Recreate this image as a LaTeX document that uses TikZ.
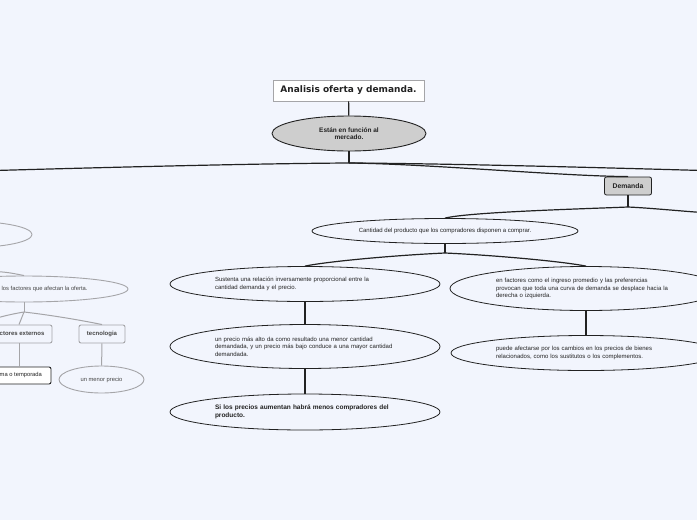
\documentclass[tikz,border=0pt]{standalone}
\usepackage{fontspec}
\setmainfont{Liberation Sans}
\newfontfamily\titlefont{DejaVu Sans}
\usetikzlibrary{shapes.geometric}
\definecolor{mapBg}{RGB}{242,245,253}
\definecolor{mapLine}{RGB}{34,34,34}
\definecolor{mapGray}{RGB}{165,165,168}
\definecolor{mapGrayText}{RGB}{70,70,70}
\definecolor{mapFill}{RGB}{206,206,206}

\begin{document}
\begin{tikzpicture}[x=1pt,y=-1pt,
  conn/.style={draw=mapLine, line width=1.2pt},
  grisconn/.style={draw=mapGray, line width=1pt},
  titulo/.style={rectangle, draw=mapGray, line width=0.8pt, fill=white,
    minimum width=151pt, minimum height=21pt, inner sep=0pt,
    font=\titlefont\bfseries\fontsize{9}{11}\selectfont, text=mapLine},
  central/.style={ellipse, draw=mapLine, line width=0.9pt, fill=mapFill,
    minimum width=154pt, minimum height=35pt, inner sep=0pt, align=center,
    font=\bfseries\fontsize{6.5}{7.5}\selectfont, text=mapLine},
  rama/.style={rectangle, rounded corners=2pt, draw=mapLine, line width=0.8pt,
    fill=mapFill, minimum width=47pt, minimum height=18pt, inner sep=0pt,
    font=\bfseries\fontsize{6.8}{8}\selectfont, text=mapLine},
  idea/.style={ellipse, draw=mapLine, line width=0.8pt, fill=mapBg,
    inner sep=0pt, font=\fontsize{6}{7.5}\selectfont, text=mapLine},
  ideatxt/.style={text width=180pt, align=left},
  grisell/.style={ellipse, draw=mapGray, line width=0.9pt, fill=mapBg,
    inner sep=0pt, font=\fontsize{5.8}{7}\selectfont, text=mapGrayText},
  grisbox/.style={rectangle, rounded corners=2pt, draw=mapGray, line width=0.9pt,
    fill=mapBg, inner sep=0pt, minimum height=18pt,
    font=\bfseries\fontsize{6}{7}\selectfont, text=mapGrayText},
  negrobox/.style={rectangle, rounded corners=2pt, draw=mapLine, line width=0.9pt,
    fill=white, inner sep=0pt, minimum height=17pt},
  gristxt/.style={inner sep=0pt, font=\fontsize{5.8}{7}\selectfont, text=mapGrayText},
  grisbold/.style={inner sep=0pt, font=\bfseries\fontsize{6}{7}\selectfont, text=mapGrayText},
  negrotxt/.style={inner sep=0pt, font=\fontsize{5.8}{7}\selectfont, text=mapLine}
]
\useasboundingbox (0,0) rectangle (697,520);
\fill[mapBg] (0,0) rectangle (697,520);
\clip (0,0) rectangle (697,520);

% nodos principales
\node[titulo] (titulo) at (348.5,90.5) {Analisis oferta y demanda.};
\node[central] (mercado) at (349,133.5) {Están en función al\\mercado.};
\node[rama] (demanda) at (628,186) {Demanda};

\node[idea, minimum width=266pt, minimum height=25pt] (cantidad) at (445,231)
  {Cantidad del producto que los compradores disponen a comprar.};
\node[idea, ideatxt, minimum width=270pt, minimum height=35pt] (sustenta) at (305,284)
  {Sustenta una relación inversamente proporcional entre la\\cantidad demanda y el precio.};
\node[idea, ideatxt, minimum width=272pt, minimum height=44pt] (factores) at (586,288.5)
  {en factores como el ingreso promedio y las preferencias\\provocan que toda una curva de demanda se desplace hacia la\\derecha o izquierda.};
\node[idea, ideatxt, minimum width=270pt, minimum height=44pt] (precio) at (305,346.5)
  {un precio más alto da como resultado una menor cantidad\\demandada, y un precio más bajo conduce a una mayor cantidad\\demandada.};
\node[idea, ideatxt, minimum width=270pt, minimum height=35pt] (puede) at (586,353)
  {puede afectarse por los cambios en los precios de bienes\\relacionados, como los sustitutos o los complementos.};
\node[idea, ideatxt, minimum width=270pt, minimum height=36pt,
  font=\bfseries\fontsize{6.5}{7.5}\selectfont] (aumentan) at (305,412)
  {Si los precios aumentan habrá menos compradores del\\producto.};

% lado de la oferta (cortado)
\node[grisell, minimum width=124pt, minimum height=26pt] (oferta) at (-30,234.5) {};
\node[grisell, minimum width=208pt, minimum height=26pt] (afectan) at (24,289) {};
\node[gristxt, anchor=west] (afectantxt) at (1.5,289) {los factores que afectan la oferta.};
\node[grisbox, minimum width=68pt] (externos) at (18,334) {};
\node[grisbold, anchor=west] (externostxt) at (-0.5,333.5) {ctores externos};
\node[grisbox, minimum width=46pt] (tecno) at (102,334) {tecnologia};
\node[grisell, minimum width=85pt, minimum height=27pt] (menor) at (101.5,379.5) {un menor precio};
\node[negrobox, minimum width=72pt] (temporada) at (15,375.5) {};
\node[negrotxt, anchor=west] (temporadatxt) at (-0.5,375) {ma o temporada};

% conectores
\coordinate (j1) at (349,163);
\coordinate (salIzq) at (-5,170.5);
\coordinate (salDer) at (702,170.5);
\draw[conn] (titulo) -- (mercado);
\draw[conn] (mercado.south) -- (j1);
\draw[conn] (j1) .. controls (260,163.5) and (120,167) .. (salIzq);
\draw[conn] (j1) .. controls (440,163.5) and (580,167) .. (salDer);
\draw[conn] (j1) .. controls (430,164) and (560,176) .. (demanda.north);

\coordinate (j2) at (628,207);
\coordinate (salDer2) at (702,212.5);
\draw[conn] (demanda.south) -- (j2);
\draw[conn] (j2) .. controls (580,209) and (470,212) .. (cantidad.north);
\draw[conn] (j2) .. controls (650,208) and (680,211) .. (salDer2);

\coordinate (j3) at (445,253);
\draw[conn] (cantidad.south) -- (j3);
\draw[conn] (j3) .. controls (400,255) and (330,261) .. (sustenta.north);
\draw[conn] (j3) .. controls (490,255) and (560,261) .. (factores.north);
\draw[conn] (sustenta) -- (precio);
\draw[conn] (precio) -- (aumentan);
\draw[conn] (factores) -- (puede);

\coordinate (entraOf) at (-5,271.5);
\coordinate (j4) at (24,312);
\coordinate (salIzq3) at (-5,318.5);
\draw[grisconn] (entraOf) .. controls (8,272) and (16,274) .. (afectan.north);
\draw[grisconn] (afectan.south) -- (j4);
\draw[grisconn] (j4) .. controls (12,314) and (4,316) .. (salIzq3);
\draw[grisconn] (j4) -- (externos.north -| 19,0);
\draw[grisconn] (j4) .. controls (50,315) and (80,320) .. (tecno.north);
\draw[grisconn] (externos.south -| 19,0) -- (temporada.north -| 19,0);
\draw[grisconn] (tecno) -- (menor);
\end{tikzpicture}
\end{document}
